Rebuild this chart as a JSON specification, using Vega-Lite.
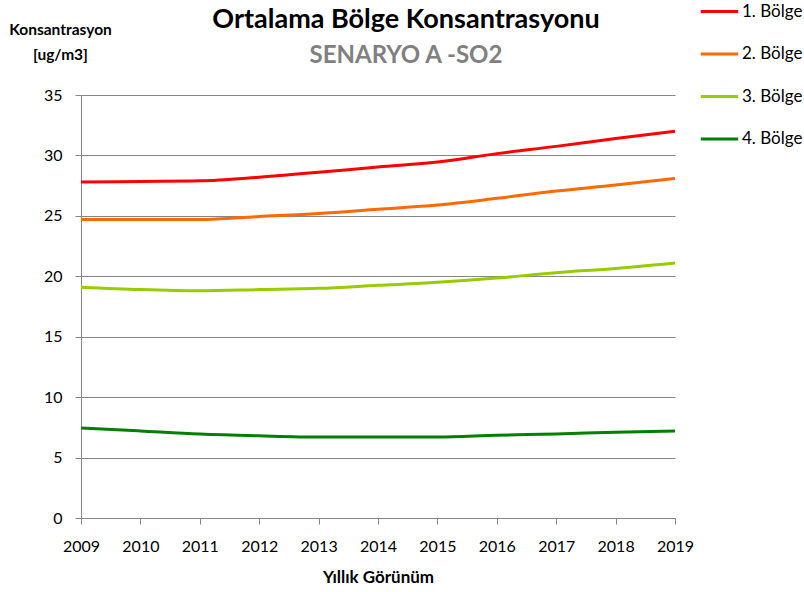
{
  "$schema": "https://vega.github.io/schema/vega-lite/v6.json",
  "width": 594,
  "height": 423,
  "autosize": {"type": "none"},
  "padding": {"left": 81, "top": 95, "right": 129, "bottom": 74},
  "background": "white",
  "config": {
    "font": "Lato",
    "view": {"stroke": null}
  },
  "title": {
    "text": "Ortalama Bölge Konsantrasyonu",
    "subtitle": "SENARYO A -SO2",
    "fontSize": 27,
    "fontWeight": "bold",
    "color": "#000000",
    "subtitleFontSize": 24,
    "subtitleFontWeight": "bold",
    "subtitleColor": "#808080",
    "subtitlePadding": 10,
    "anchor": "middle",
    "dx": 28,
    "dy": 78,
    "offset": 0
  },
  "data": {
    "values": [
      {"year": 2009, "series": "1. Bölge", "value": 27.8},
      {"year": 2010, "series": "1. Bölge", "value": 27.85},
      {"year": 2011, "series": "1. Bölge", "value": 27.9},
      {"year": 2012, "series": "1. Bölge", "value": 28.2},
      {"year": 2013, "series": "1. Bölge", "value": 28.6},
      {"year": 2014, "series": "1. Bölge", "value": 29.05},
      {"year": 2015, "series": "1. Bölge", "value": 29.45},
      {"year": 2016, "series": "1. Bölge", "value": 30.15},
      {"year": 2017, "series": "1. Bölge", "value": 30.75},
      {"year": 2018, "series": "1. Bölge", "value": 31.4},
      {"year": 2019, "series": "1. Bölge", "value": 32.0},
      {"year": 2009, "series": "2. Bölge", "value": 24.7},
      {"year": 2010, "series": "2. Bölge", "value": 24.7},
      {"year": 2011, "series": "2. Bölge", "value": 24.7},
      {"year": 2012, "series": "2. Bölge", "value": 24.95},
      {"year": 2013, "series": "2. Bölge", "value": 25.2},
      {"year": 2014, "series": "2. Bölge", "value": 25.55},
      {"year": 2015, "series": "2. Bölge", "value": 25.9},
      {"year": 2016, "series": "2. Bölge", "value": 26.45},
      {"year": 2017, "series": "2. Bölge", "value": 27.05},
      {"year": 2018, "series": "2. Bölge", "value": 27.55},
      {"year": 2019, "series": "2. Bölge", "value": 28.1},
      {"year": 2009, "series": "3. Bölge", "value": 19.1},
      {"year": 2010, "series": "3. Bölge", "value": 18.9},
      {"year": 2011, "series": "3. Bölge", "value": 18.8},
      {"year": 2012, "series": "3. Bölge", "value": 18.9},
      {"year": 2013, "series": "3. Bölge", "value": 19.0},
      {"year": 2014, "series": "3. Bölge", "value": 19.25},
      {"year": 2015, "series": "3. Bölge", "value": 19.5},
      {"year": 2016, "series": "3. Bölge", "value": 19.85},
      {"year": 2017, "series": "3. Bölge", "value": 20.3},
      {"year": 2018, "series": "3. Bölge", "value": 20.65},
      {"year": 2019, "series": "3. Bölge", "value": 21.1},
      {"year": 2009, "series": "4. Bölge", "value": 7.45},
      {"year": 2010, "series": "4. Bölge", "value": 7.2},
      {"year": 2011, "series": "4. Bölge", "value": 6.95},
      {"year": 2012, "series": "4. Bölge", "value": 6.8},
      {"year": 2013, "series": "4. Bölge", "value": 6.7},
      {"year": 2014, "series": "4. Bölge", "value": 6.7},
      {"year": 2015, "series": "4. Bölge", "value": 6.7},
      {"year": 2016, "series": "4. Bölge", "value": 6.85},
      {"year": 2017, "series": "4. Bölge", "value": 6.95},
      {"year": 2018, "series": "4. Bölge", "value": 7.1},
      {"year": 2019, "series": "4. Bölge", "value": 7.2}
    ]
  },
  "mark": {"type": "line", "strokeWidth": 3, "interpolate": "monotone"},
  "encoding": {
    "x": {
      "field": "year",
      "type": "quantitative",
      "scale": {"domain": [2009, 2019], "nice": false, "zero": false},
      "axis": {
        "values": [2009, 2010, 2011, 2012, 2013, 2014, 2015, 2016, 2017, 2018, 2019],
        "format": "d",
        "grid": false,
        "title": "Yıllık Görünüm",
        "titleFontSize": 17,
        "titleFontWeight": "bold",
        "titleColor": "#000000",
        "titlePadding": 15,
        "labelFontSize": 16,
        "labelColor": "#000000",
        "labelPadding": 14,
        "labelFlush": false,
        "labelOverlap": false,
        "domainColor": "#868686",
        "tickColor": "#868686",
        "tickSize": 6
      }
    },
    "y": {
      "field": "value",
      "type": "quantitative",
      "scale": {"domain": [0, 35], "nice": false},
      "axis": {
        "values": [0, 5, 10, 15, 20, 25, 30, 35],
        "title": ["Konsantrasyon", "[ug/m3]"],
        "titleAngle": 0,
        "titleX": -21,
        "titleY": -73,
        "titleAlign": "center",
        "titleBaseline": "top",
        "titleFontSize": 15.5,
        "titleFontWeight": "bold",
        "titleColor": "#000000",
        "titleLineHeight": 25,
        "labelFontSize": 16,
        "labelColor": "#000000",
        "labelPadding": 13,
        "gridColor": "#868686",
        "gridWidth": 1,
        "domainColor": "#868686",
        "tickColor": "#868686",
        "tickSize": 6
      }
    },
    "color": {
      "field": "series",
      "type": "nominal",
      "scale": {
        "domain": ["1. Bölge", "2. Bölge", "3. Bölge", "4. Bölge"],
        "range": ["#FF0000", "#FF6A00", "#99CC00", "#008000"]
      },
      "legend": {
        "title": null,
        "orient": "none",
        "legendX": 618,
        "legendY": -104,
        "symbolType": "stroke",
        "symbolSize": 1400,
        "symbolStrokeWidth": 3,
        "labelFontSize": 17,
        "labelColor": "#000000",
        "rowPadding": 13.5,
        "labelOffset": 2
      }
    }
  }
}
